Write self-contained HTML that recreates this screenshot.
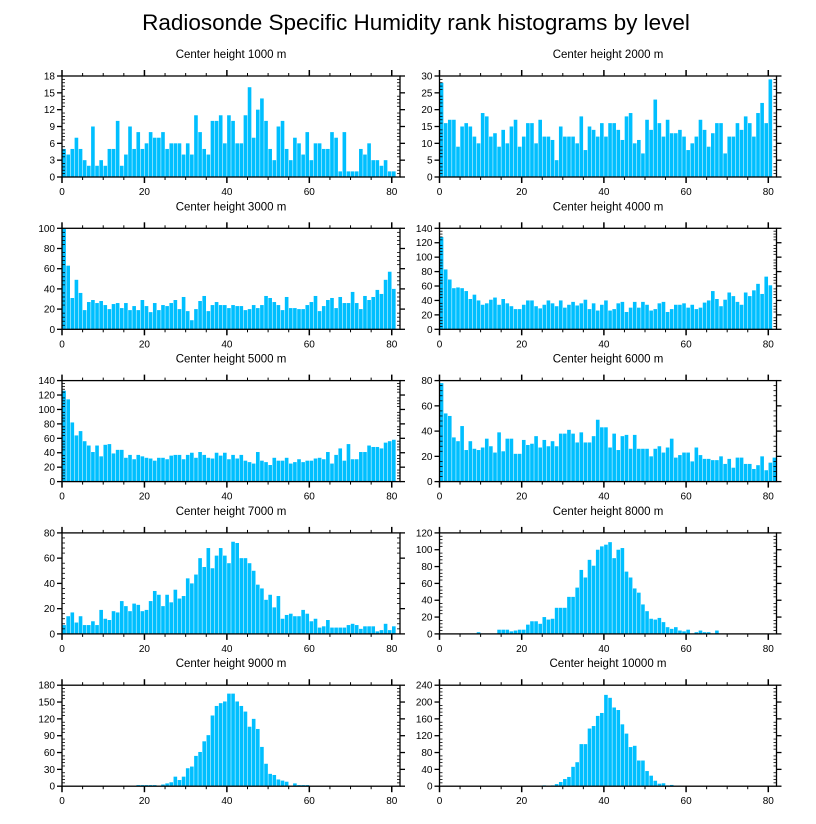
<!DOCTYPE html>
<html><head><meta charset="utf-8"><style>
html,body{margin:0;padding:0;background:#fff}
svg{display:block;font-family:"Liberation Sans",sans-serif}
</style></head><body>
<svg id="chart" width="816" height="824" viewBox="0 0 816 824" xmlns="http://www.w3.org/2000/svg">
<text x="416" y="30" font-size="22.5" text-anchor="middle" fill="#000">Radiosonde Specific Humidity rank histograms by level</text>
</svg>
<script>
const levels = [1000,2000,3000,4000,5000,6000,7000,8000,9000,10000];
const yMaxes = [18,30,100,140,140,80,80,120,180,240];
const ySteps = [3,5,20,20,20,20,20,20,30,40];
const xTickLabels = [0,20,40,60,80];
const h1000 = [5,4,5,7,5,3,2,9,2,3,2,5,5,10,2,4,9,5,8,5,6,8,7,7,8,5,6,6,6,4,6,4,11,8,5,4,10,10,11,6,11,10,6,6,11,16,7,12,14,10,5,3,9,10,5,3,7,6,4,8,3,6,6,5,5,8,7,1,8,1,1,1,5,4,6,3,3,2,3,1,1,0];
const h2000 = [28,16,17,17,9,15,16,15,12,10,19,18,12,13,9,14,10,15,17,9,12,16,16,10,17,12,12,11,5,15,12,12,12,10,18,8,15,14,12,16,12,16,16,14,11,18,19,10,11,7,17,14,23,16,12,17,13,13,14,12,8,10,12,17,14,9,13,16,16,7,12,12,16,14,18,16,12,19,22,16,29];
const h3000 = [100,63,31,49,36,19,27,29,26,28,24,20,25,26,21,26,19,23,19,29,23,17,26,19,24,23,26,29,20,32,18,9,20,28,33,18,24,27,24,24,21,24,23,23,19,20,24,21,24,33,31,27,24,19,32,21,21,20,20,24,27,33,18,23,29,31,21,32,26,26,37,26,20,33,29,32,39,35,49,57,40];
const h4000 = [128,83,69,57,58,57,53,42,48,40,34,36,41,44,34,42,36,32,28,28,34,40,40,32,29,34,40,36,32,40,30,34,38,33,36,41,28,36,26,34,40,26,28,36,38,24,30,38,30,38,34,26,28,36,38,24,28,34,34,36,30,34,28,30,37,40,53,42,32,41,51,46,38,34,51,46,54,63,49,73,61];
const h5000 = [126,114,82,64,70,56,50,41,50,35,51,52,39,44,44,33,37,31,37,35,33,32,29,33,33,31,36,37,37,31,37,40,33,41,37,33,32,40,36,40,31,37,32,37,29,27,25,41,29,27,23,33,29,29,33,25,27,31,27,29,29,32,33,31,41,25,37,46,29,52,31,31,41,41,50,48,48,46,54,56,58];
const h6000 = [78,54,52,35,32,44,25,32,26,25,27,34,28,23,39,24,34,34,22,22,33,29,30,36,27,33,28,32,28,38,38,41,38,31,39,31,31,36,49,43,43,27,38,25,36,37,26,37,26,26,26,20,26,28,23,27,34,19,21,23,23,16,27,21,18,18,17,17,20,14,18,11,19,19,14,14,10,13,20,9,15,19];
const h7000 = [7,14,17,9,14,7,7,10,7,19,12,11,18,17,26,22,18,24,23,18,19,26,34,31,22,31,25,35,28,30,44,40,47,60,53,68,52,62,68,62,56,73,72,60,60,56,50,39,36,27,31,21,30,12,15,16,14,14,19,16,10,12,5,6,11,5,5,5,5,7,8,7,4,6,6,6,2,3,8,3,6];
const h8000 = [0,0,0,0,0,0,0,0,0,2,0,0,0,0,5,5,5,3,4,5,5,11,15,15,12,20,17,18,31,31,31,44,44,55,76,67,88,81,100,104,106,109,90,100,102,74,67,54,49,35,27,18,17,19,14,8,6,8,4,3,5,0,2,4,2,2,0,4,0,0,0,0,0,0,0,0,0,0,0,0,0,0];
const h9000 = [0,0,0,0,0,0,0,0,0,0,0,0,0,0,0,0,0,0,2,2,2,2,2,1,3,5,7,17,11,17,32,35,54,61,80,91,126,143,148,151,165,165,151,143,133,106,120,102,70,40,22,20,12,10,8,0,5,2,2,2,0,0,0,0,0,0,0,0,0,0,0,0,0,0,0,0,0,0,0,0,0,0];
const h10000 = [0,0,0,0,0,0,0,0,0,0,0,0,0,0,0,0,0,0,0,0,0,0,0,0,0,2,1,2,5,10,17,22,46,57,100,100,137,143,167,174,217,210,187,181,147,125,93,96,61,61,36,25,13,6,7,2,3,1,1,0,0,0,0,0,0,0,0,0,0,0,0,0,0,0,0,0,0,0,0,0,0,0];
const series = [h1000,h2000,h3000,h4000,h5000,h6000,h7000,h8000,h9000,h10000];

const NS = 'http://www.w3.org/2000/svg';
const svg = document.getElementById('chart');
function mk(tag, attrs, parent, text) {
  const e = document.createElementNS(NS, tag);
  for (const k in attrs) e.setAttribute(k, attrs[k]);
  if (text !== undefined) e.textContent = text;
  (parent || svg).appendChild(e);
  return e;
}
const XMAX = 82, H = 101;
const colX = [62, 439.5], colW = [338, 337];
const rowY = [76, 228.3, 380.6, 532.9, 685.2];

levels.forEach((lev, p) => {
  const col = p % 2, row = Math.floor(p / 2);
  const x0 = colX[col], W = colW[col], y0 = rowY[row];
  const ymax = yMaxes[p], ystep = ySteps[p], data = series[p];
  const xs = v => x0 + v * W / XMAX;
  const ys = v => y0 + H - v * H / ymax;
  const g = mk('g', {});
  
  
  const t = mk('text', {x: x0 + W / 2, y: y0 - 18, 'font-size': 11.5, 'text-anchor': 'middle'}, g, 'Center height ' + lev + ' m');
  
  
  data.forEach((d, i) => {
    if (d <= 0) return;
    const r = mk('rect', {x: xs(i) + 0.25, y: ys(d), width: W / XMAX - 0.5, height: ys(0) - ys(d), fill: '#00bfff'}, g);
    
    
  });
  const fr = mk('rect', {x: x0, y: y0, width: W, height: H, fill: 'none', stroke: '#000', 'stroke-width': 1.3}, g);
  
  
  for (let v = 0; v <= 80; v += 5) {
    const major = v % 20 === 0, L = major ? 6 : 3, x = xs(v);
    mk('line', {x1: x, x2: x, y1: y0 + H, y2: y0 + H + L, stroke: '#000', 'stroke-width': major ? 1.5 : 1}, g);
    mk('line', {x1: x, x2: x, y1: y0, y2: y0 - L, stroke: '#000', 'stroke-width': major ? 1.5 : 1}, g);
  }
  xTickLabels.forEach(v => {
    const tl = mk('text', {x: xs(v), y: y0 + H + 18, 'font-size': 10, 'text-anchor': 'middle'}, g, String(v));
    
    
  });
  const minor = ystep / 5;
  for (let k = 0; k * minor <= ymax + 1e-9; k++) {
    const v = k * minor, y = ys(v), major = k % 5 === 0;
    if (major) {
      mk('line', {x1: x0 - 5, x2: x0, y1: y, y2: y, stroke: '#000', 'stroke-width': 1.3}, g);
      mk('line', {x1: x0 + W, x2: x0 + W + 5, y1: y, y2: y, stroke: '#000', 'stroke-width': 1.3}, g);
      const yl = mk('text', {x: x0 - 7, y: y + 3.5, 'font-size': 10, 'text-anchor': 'end'}, g, String(Math.round(v)));
      
      
    } else {
      mk('line', {x1: x0, x2: x0 + 3, y1: y, y2: y, stroke: '#000', 'stroke-width': 0.8}, g);
      mk('line', {x1: x0 + W - 3, x2: x0 + W, y1: y, y2: y, stroke: '#000', 'stroke-width': 0.8}, g);
    }
  }
});
</script>
</body></html>
